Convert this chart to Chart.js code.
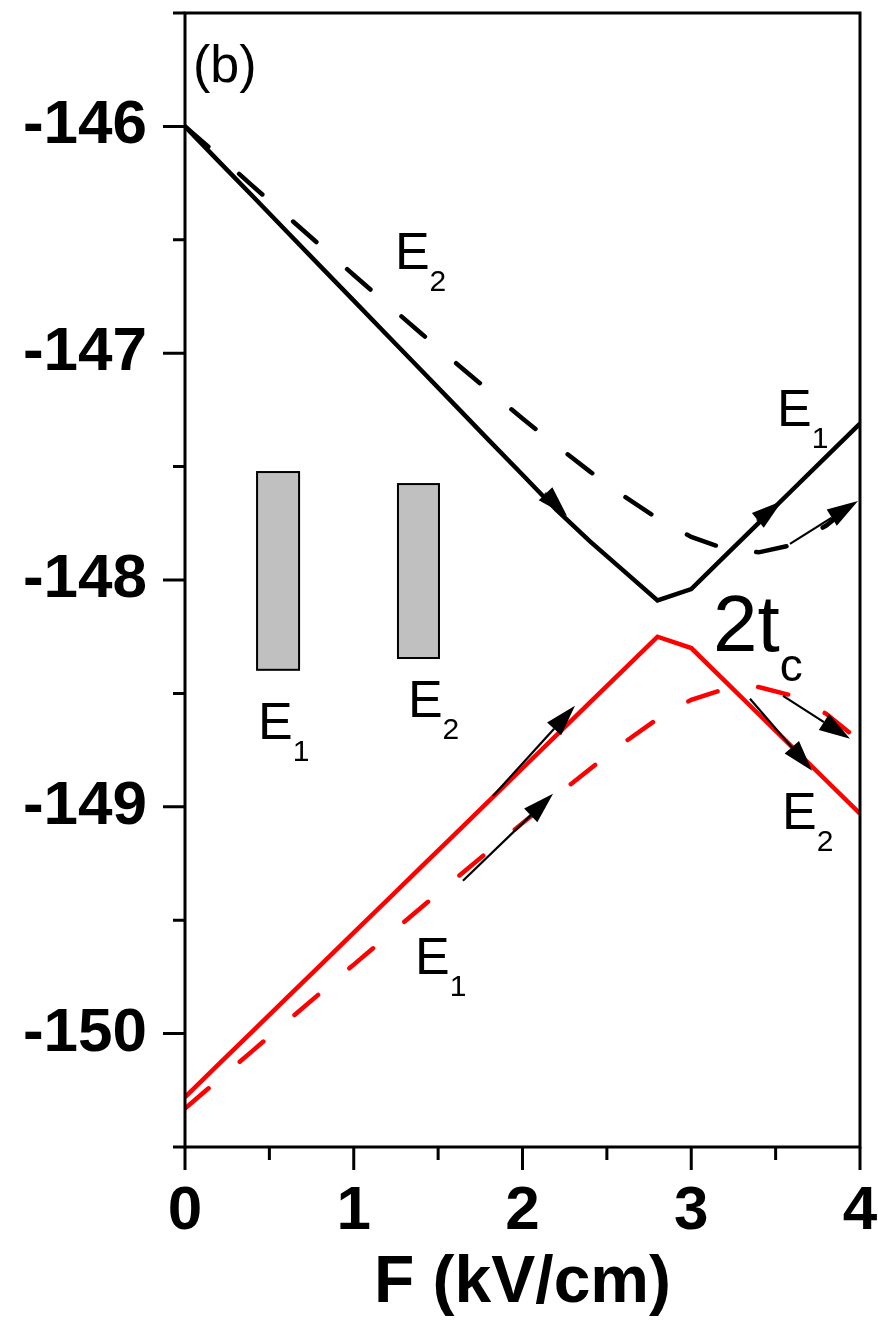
<!DOCTYPE html>
<html>
<head>
<meta charset="utf-8">
<script src="https://cdn.jsdelivr.net/npm/chart.js@4.4.0/dist/chart.umd.min.js"></script>
<style>
  html, body { margin: 0; padding: 0; background: #fff; }
  #wrap { width: 878px; height: 1323px; position: relative; }
</style>
</head>
<body>
<div id="wrap"><canvas id="levels"></canvas></div>
<script>
// field values (kV/cm) and the four energy curves (meV)
const fieldKV = [0, 0.2, 0.4, 0.6, 0.8, 1.0, 1.2, 1.4, 1.6, 1.8, 2.0, 2.2, 2.4, 2.6, 2.8, 3.0, 3.2, 3.4, 3.6, 3.8, 4.0];
const upperSolid = [-146.000, -146.154, -146.307, -146.461, -146.615, -146.768, -146.922, -147.075, -147.229, -147.383, -147.536, -147.690, -147.830, -147.960, -148.090, -148.040, -147.894, -147.748, -147.602, -147.456, -147.310];
const upperDashed = [-146.000, -146.130, -146.262, -146.393, -146.524, -146.655, -146.785, -146.913, -147.040, -147.165, -147.288, -147.407, -147.522, -147.630, -147.728, -147.810, -147.862, -147.878, -147.845, -147.760, -147.640];
const lowerSolid = [-150.280, -150.135, -149.990, -149.845, -149.700, -149.555, -149.410, -149.265, -149.120, -148.975, -148.830, -148.685, -148.540, -148.395, -148.250, -148.300, -148.446, -148.592, -148.738, -148.884, -149.030];
const lowerDashed = [-150.330, -150.203, -150.076, -149.949, -149.822, -149.696, -149.570, -149.444, -149.319, -149.195, -149.072, -148.951, -148.833, -148.718, -148.612, -148.528, -148.480, -148.472, -148.510, -148.590, -148.710];

const xTicks = [0, 1, 2, 3, 4];
const xMinorTicks = [0.5, 1.5, 2.5, 3.5];
const yTicks = [-150, -149, -148, -147, -146];
const yMinorTicks = [-150.5, -149.5, -148.5, -147.5, -146.5, -145.5];

// annotations, in axis units
const arrowNotes = [
  { from: [2.133, -147.617], to: [2.264, -147.718], thick: true },
  { from: [3.390, -147.740], to: [3.538, -147.652], thick: true },
  { from: [3.585, -147.841], to: [3.988, -147.652] },
  { from: [1.825, -148.952], to: [2.311, -148.555] },
  { from: [1.647, -149.326], to: [2.181, -148.943] },
  { from: [3.348, -148.524], to: [3.716, -148.841] },
  { from: [3.544, -148.511], to: [3.941, -148.700] },
];
const boxNotes = [
  { x0: 0.427, x1: 0.676, y0: -147.524, y1: -148.396 },
  { x0: 1.262, x1: 1.505, y0: -147.577, y1: -148.344 },
];
const textNotes = [
  { text: "E", sub: "2", x: 1.244, y: -146.630, size: 52, subSize: 30, drop: 22 },
  { text: "E", sub: "1", x: 3.508, y: -147.322, size: 52, subSize: 30, drop: 22 },
  { text: "E", sub: "1", x: 0.433, y: -148.700, size: 52, subSize: 30, drop: 22 },
  { text: "E", sub: "2", x: 1.321, y: -148.604, size: 52, subSize: 30, drop: 22 },
  { text: "E", sub: "2", x: 3.538, y: -149.097, size: 52, subSize: 30, drop: 22 },
  { text: "E", sub: "1", x: 1.363, y: -149.736, size: 52, subSize: 30, drop: 22 },
  { text: "2t", sub: "c", x: 3.129, y: -148.313, size: 80, subSize: 46, drop: 30 },
  { text: "(b)", sub: "", x: 0.047, y: -145.806, size: 52, subSize: 0, drop: 0 },
];

const FONT = '"Liberation Sans", Arial, sans-serif';

function toPoints(ys) {
  return fieldKV.map((x, i) => ({ x: x, y: ys[i] }));
}

function drawArrow(ctx, x1, y1, x2, y2, thick) {
  const ang = Math.atan2(y2 - y1, x2 - x1);
  const headLen = 31, headHalf = 9.5;
  const bx = x2 - headLen * Math.cos(ang);
  const by = y2 - headLen * Math.sin(ang);
  ctx.lineWidth = thick ? 3 : 2.2;
  ctx.beginPath();
  ctx.moveTo(x1, y1);
  ctx.lineTo(bx, by);
  ctx.stroke();
  ctx.beginPath();
  ctx.moveTo(x2, y2);
  ctx.lineTo(bx + headHalf * Math.sin(ang), by - headHalf * Math.cos(ang));
  ctx.lineTo(bx - headHalf * Math.sin(ang), by + headHalf * Math.cos(ang));
  ctx.closePath();
  ctx.fill();
}

const framePlugin = {
  id: "frame",
  afterDraw(chart) {
    const ctx = chart.ctx;
    const area = chart.chartArea;
    const xs = chart.scales.x;
    const ys = chart.scales.y;
    ctx.save();
    ctx.strokeStyle = "#000";
    ctx.fillStyle = "#000";
    ctx.lineWidth = 3;
    ctx.lineCap = "butt";
    ctx.strokeRect(area.left, area.top, area.right - area.left, area.bottom - area.top);

    // ticks pointing outward
    ctx.beginPath();
    xTicks.forEach((v) => {
      const px = xs.getPixelForValue(v);
      ctx.moveTo(px, area.bottom);
      ctx.lineTo(px, area.bottom + 23);
    });
    xMinorTicks.forEach((v) => {
      const px = xs.getPixelForValue(v);
      ctx.moveTo(px, area.bottom);
      ctx.lineTo(px, area.bottom + 13);
    });
    yTicks.forEach((v) => {
      const py = ys.getPixelForValue(v);
      ctx.moveTo(area.left, py);
      ctx.lineTo(area.left - 22, py);
    });
    yMinorTicks.forEach((v) => {
      const py = ys.getPixelForValue(v);
      ctx.moveTo(area.left, py);
      ctx.lineTo(area.left - 12, py);
    });
    ctx.stroke();

    // grey level boxes
    boxNotes.forEach((b) => {
      const l = xs.getPixelForValue(b.x0), r = xs.getPixelForValue(b.x1);
      const t = ys.getPixelForValue(b.y0), btm = ys.getPixelForValue(b.y1);
      ctx.fillStyle = "#c0c0c0";
      ctx.fillRect(l, t, r - l, btm - t);
      ctx.lineWidth = 2;
      ctx.strokeRect(l, t, r - l, btm - t);
    });

    // arrows
    ctx.fillStyle = "#000";
    arrowNotes.forEach((a) => {
      drawArrow(ctx,
        xs.getPixelForValue(a.from[0]), ys.getPixelForValue(a.from[1]),
        xs.getPixelForValue(a.to[0]), ys.getPixelForValue(a.to[1]), a.thick);
    });

    // labels with subscripts
    ctx.textAlign = "left";
    ctx.textBaseline = "alphabetic";
    textNotes.forEach((n) => {
      const px = xs.getPixelForValue(n.x);
      const py = ys.getPixelForValue(n.y);
      ctx.font = n.size + "px " + FONT;
      ctx.fillText(n.text, px, py);
      if (n.sub) {
        const w = ctx.measureText(n.text).width;
        ctx.font = n.subSize + "px " + FONT;
        ctx.fillText(n.sub, px + w, py + n.drop);
      }
    });
    ctx.restore();
  },
};

const tickFont = { family: FONT, size: 62, weight: "bold" };

new Chart(document.getElementById("levels"), {
  type: "line",
  data: {
    datasets: [
      { data: toPoints(upperSolid), borderColor: "#000", borderWidth: 4.5 },
      { data: toPoints(upperDashed), borderColor: "#000", borderWidth: 4.5, borderDash: [31, 41], borderCapStyle: "round" },
      { data: toPoints(lowerSolid), borderColor: "#ff0000", borderWidth: 4.5 },
      { data: toPoints(lowerDashed), borderColor: "#ff0000", borderWidth: 4.5, borderDash: [31, 41], borderCapStyle: "round" },
    ],
  },
  options: {
    responsive: true,
    maintainAspectRatio: false,
    animation: false,
    layout: { padding: { top: 13, right: 18, left: 0, bottom: 0 } },
    elements: { point: { radius: 0 }, line: { tension: 0, fill: false } },
    plugins: { legend: { display: false }, tooltip: { enabled: false } },
    scales: {
      x: {
        type: "linear",
        min: 0,
        max: 4,
        afterBuildTicks: (s) => { s.ticks = xTicks.map((v) => ({ value: v })); },
        afterFit: (s) => { s.height = 176; s.paddingLeft = 0; s.paddingRight = 0; },
        grid: { display: false, drawTicks: false },
        border: { display: false },
        ticks: { padding: 28, color: "#000", font: tickFont, maxRotation: 0, autoSkip: false },
        title: { display: true, text: "F (kV/cm)", color: "#000", padding: 0, font: { family: FONT, size: 66, weight: "bold" } },
      },
      y: {
        type: "linear",
        min: -150.5,
        max: -145.5,
        afterBuildTicks: (s) => { s.ticks = yTicks.map((v) => ({ value: v })); },
        afterFit: (s) => { s.width = 185; s.paddingTop = 0; s.paddingBottom = 0; },
        grid: { display: false, drawTicks: false },
        border: { display: false },
        ticks: { padding: 38, color: "#000", font: tickFont, autoSkip: false },
      },
    },
  },
  plugins: [framePlugin],
});
</script>
</body>
</html>
